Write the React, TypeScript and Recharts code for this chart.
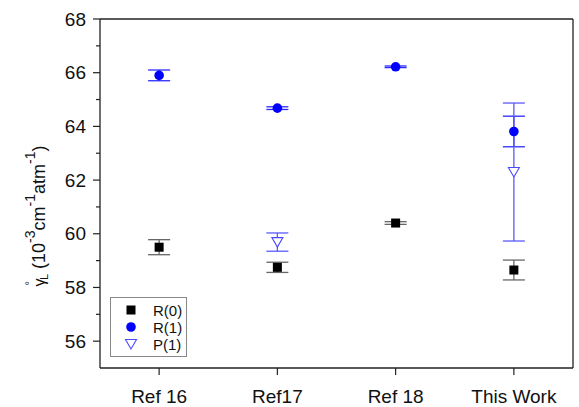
import * as React from "react";
import { ScatterChart, Scatter, XAxis, YAxis, ErrorBar, ReferenceLine, Legend } from "recharts";

// ── Data ────────────────────────────────────────────────────────────────

const categories = ["Ref 16", "Ref17", "Ref 18", "This Work"];
const xPositions = [1, 2, 3, 4];

const r0Values = [59.5, 58.75, 60.4, 58.65];
const r0Errors = [0.28, 0.19, 0.05, 0.37];

const r1Values = [65.9, 64.68, 66.22, 63.81];
const r1Errors = [0.2, 0.05, 0.03, 0.57];

// P(1) only exists for Ref17 and This Work
const p1Index = [1, 3];
const p1Values = [59.69, 62.3];
const p1Errors = [0.34, 2.57];

const yTicks = [56, 57, 58, 59, 60, 61, 62, 63, 64, 65, 66, 67, 68];

const FONT = '"Liberation Sans", Arial, sans-serif';
const AXIS = "#222";

const r0Data = xPositions.map((x, i) => ({ x, y: r0Values[i], err: r0Errors[i] }));
const r1Data = xPositions.map((x, i) => ({ x, y: r1Values[i], err: r1Errors[i] }));
const p1Data = p1Index.map((idx, i) => ({ x: xPositions[idx], y: p1Values[i], err: p1Errors[i] }));

// ── Markers ─────────────────────────────────────────────────────────────

// eslint-disable-next-line @typescript-eslint/no-explicit-any
const SquareDot = (p: any) => <rect x={p.cx - 4.5} y={p.cy - 4.5} width={9} height={9} fill="#000" />;
// eslint-disable-next-line @typescript-eslint/no-explicit-any
const CircleDot = (p: any) => <circle cx={p.cx} cy={p.cy} r={4.8} fill="#0000ff" />;
// eslint-disable-next-line @typescript-eslint/no-explicit-any
const TriDot = (p: any) => (
  <polygon
    points={`${p.cx - 5.5},${p.cy - 4.5} ${p.cx + 5.5},${p.cy - 4.5} ${p.cx},${p.cy + 5}`}
    fill="#fff"
    stroke="#4a4aff"
    strokeWidth={1.1}
  />
);

// ── Axis ticks & label ──────────────────────────────────────────────────

// eslint-disable-next-line @typescript-eslint/no-explicit-any
function YTick({ x, y, payload }: any) {
  const major = payload.value % 2 === 0;
  return (
    <g>
      <line x1={x - (major ? 7 : 4)} x2={x} y1={y} y2={y} stroke={AXIS} strokeWidth={1.2} />
      {major && (
        <text x={x - 14} y={y} dy={6.5} textAnchor="end" fontSize={19} fontFamily={FONT} fill="#111">
          {payload.value}
        </text>
      )}
    </g>
  );
}

// eslint-disable-next-line @typescript-eslint/no-explicit-any
function XTick({ x, y, payload }: any) {
  const idx = xPositions.indexOf(payload.value);
  return (
    <g>
      <line x1={x} x2={x} y1={y} y2={y + 7} stroke={AXIS} strokeWidth={1.2} />
      <text x={x} y={y + 35} textAnchor="middle" fontSize={19} fontFamily={FONT} fill="#111">
        {categories[idx]}
      </text>
    </g>
  );
}

function YLabel() {
  return (
    <text
      transform="translate(45, 216) rotate(-90)"
      textAnchor="middle"
      fontSize={18}
      fontFamily={FONT}
      fill="#111"
    >
      <tspan fontSize={16}>γ</tspan>
      <tspan dx={-7} dy={-12} fontSize={11}>°</tspan>
      <tspan dx={1} dy={15} fontSize={11}>L</tspan>
      <tspan dy={-3}> (10</tspan>
      <tspan dy={-10} fontSize={14}>-3</tspan>
      <tspan dy={10}>cm</tspan>
      <tspan dy={-10} fontSize={14}>-1</tspan>
      <tspan dy={10}>atm</tspan>
      <tspan dy={-10} fontSize={14}>-1</tspan>
      <tspan dy={10}>)</tspan>
    </text>
  );
}

function LegendBox() {
  const rows = [
    { name: "R(0)", mark: <rect x={16.5} y={8.5} width={9} height={9} fill="#000" /> },
    { name: "R(1)", mark: <circle cx={21} cy={30} r={4.8} fill="#0000ff" /> },
    { name: "P(1)", mark: <polygon points="15.5,42.5 26.5,42.5 21,52" fill="#fff" stroke="#4a4aff" strokeWidth={1.1} /> },
  ];
  return (
    <svg width={77} height={60} style={{ display: "block" }}>
      <rect x={0.5} y={0.5} width={76} height={59} fill="#fff" stroke="#888" strokeWidth={1} />
      {rows.map((r, i) => (
        <g key={r.name}>
          {r.mark}
          <text x={43} y={13 + i * 17} dy={5.5} fontSize={15} fontFamily={FONT} fill="#111">{r.name}</text>
        </g>
      ))}
    </svg>
  );
}

export default function App() {
  return (
    <div style={{ position: "absolute", left: 0, top: 0, background: "#fff" }}>
      <ScatterChart width={579} height={407} margin={{ top: 19, right: 6, bottom: 9, left: 40 }}>
        <XAxis
          type="number"
          dataKey="x"
          domain={[0.5, 4.5]}
          ticks={xPositions}
          tick={<XTick />}
          tickLine={false}
          tickSize={0}
          tickMargin={0}
          height={30}
          axisLine={{ stroke: AXIS, strokeWidth: 1.3 }}
          allowDataOverflow
        />
        <YAxis
          type="number"
          dataKey="y"
          domain={[55, 68]}
          ticks={yTicks}
          tick={<YTick />}
          tickLine={false}
          tickSize={0}
          tickMargin={0}
          width={60}
          axisLine={{ stroke: AXIS, strokeWidth: 1.3 }}
          interval={0}
          allowDataOverflow
          label={<YLabel />}
        />
        <ReferenceLine y={68} stroke={AXIS} strokeWidth={1.3} />
        <ReferenceLine x={4.5} stroke={AXIS} strokeWidth={1.3} />
        <Scatter name="R(0)" data={r0Data} shape={SquareDot} isAnimationActive={false}>
          <ErrorBar dataKey="err" direction="y" width={11} stroke="#666" strokeWidth={1.3} />
        </Scatter>
        <Scatter name="R(1)" data={r1Data} shape={CircleDot} isAnimationActive={false}>
          <ErrorBar dataKey="err" direction="y" width={11} stroke="#2a2aff" strokeWidth={1.3} />
        </Scatter>
        <Scatter name="P(1)" data={p1Data} shape={TriDot} isAnimationActive={false}>
          <ErrorBar dataKey="err" direction="y" width={11} stroke="#5a5aff" strokeWidth={1.3} />
        </Scatter>
        <Legend
          layout="vertical"
          align="center"
          verticalAlign="middle"
          content={<LegendBox />}
          wrapperStyle={{ left: 110, top: 297, width: 77, height: 60 }}
        />
      </ScatterChart>
    </div>
  );
}
